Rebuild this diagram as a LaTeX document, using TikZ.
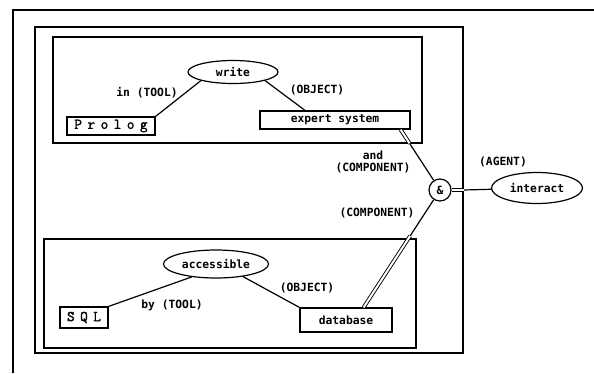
\documentclass[tikz,border=0pt]{standalone}
\usepackage{fontspec}
\setmonofont{DejaVu Sans Mono}
\newfontfamily\spacedmono[LetterSpace=36,FakeBold=1.5]{Latin Modern Mono}
\usetikzlibrary{shapes.geometric,calc}
\begin{document}
\begin{tikzpicture}[x=1pt,y=-1pt,
  font=\ttfamily\bfseries\fontsize{11.3}{12}\selectfont,
  line width=1.2pt,
  frame/.style={draw, line width=1.6pt, rectangle, inner sep=0pt},
  rel/.style={ellipse, draw, line width=1.2pt, inner sep=1pt},
  concept/.style={rectangle, draw, line width=1.2pt, inner sep=0pt},
  big/.style={font=\spacedmono\fontsize{15}{15}\selectfont},
  lab/.style={inner sep=0pt, align=center},
  dbl/.style={double, double distance=2pt, line width=0.9pt}]
\useasboundingbox (0,0) rectangle (594,373);
\fill[white] (0,0) rectangle (594,373);
% outer (cropped) frame
\draw[line width=1.6pt] (13,373) -- (13,10) -- (594,10);
% context frames
\node[frame, minimum width=428, minimum height=326] (ctx) at (249,190) {};
\node[frame, minimum width=369, minimum height=106] (topbox) at (237.5,90) {};
\node[frame, minimum width=372, minimum height=109] (botbox) at (230,293.5) {};
% top graph
\node[rel, minimum width=90, minimum height=23] (write) at (233,72) {write};
\node[concept, big, minimum width=88, minimum height=18] (prolog) at (111,126) {Prolog};
\node[concept, minimum width=150, minimum height=18] (expert) at (335,120) {expert system};
% bottom graph
\node[rel, minimum width=105, minimum height=28] (access) at (216,264) {accessible};
\node[concept, big, minimum width=48, minimum height=21] (sql) at (84,317.5) {SQL};
\node[concept, minimum width=92, minimum height=24] (db) at (346,320) {database};
% conjunction and agent
\node[circle, draw, line width=1.2pt, minimum size=22, inner sep=0pt] (amp) at (440,190) {\&};
\node[rel, minimum width=91, minimum height=31] (interact) at (537,188) {interact};
% labels
\node[lab] (l1) at (147,93) {in (TOOL)};
\node[lab] (l2) at (317,90) {(OBJECT)};
\node[lab] (l3) at (373,162) {and\\(COMPONENT)};
\node[lab] (l4) at (377,213) {(COMPONENT)};
\node[lab] (l5) at (503,162) {(AGENT)};
\node[lab] (l6) at (172,305) {by (TOOL)};
\node[lab] (l7) at (307,288) {(OBJECT)};
% edges
\draw (write.195) -- (prolog.north east);
\draw (write.345) -- ($(expert.north)+(-30,0)$);
\draw (access.208) -- (sql.north east);
\draw (access.335) -- (db.north west);
% component links
\coordinate (e1) at ($(expert.south east)+(-10,0)$);
\coordinate (e2) at ($(e1)!0.23!(amp)$);
\draw[dbl] (e1) -- (e2);
\draw (e2) -- (amp);
\coordinate (d1) at ($(db.north east)+(-29,0)$);
\coordinate (d2) at ($(d1)!0.61!(amp)$);
\draw[dbl] (d1) -- (d2);
\draw (d2) -- (amp);
% agent link
\coordinate (fr) at (ctx.east |- amp);
\draw[dbl] (amp) -- (fr);
\draw (fr) -- (interact);
\end{tikzpicture}
\end{document}
